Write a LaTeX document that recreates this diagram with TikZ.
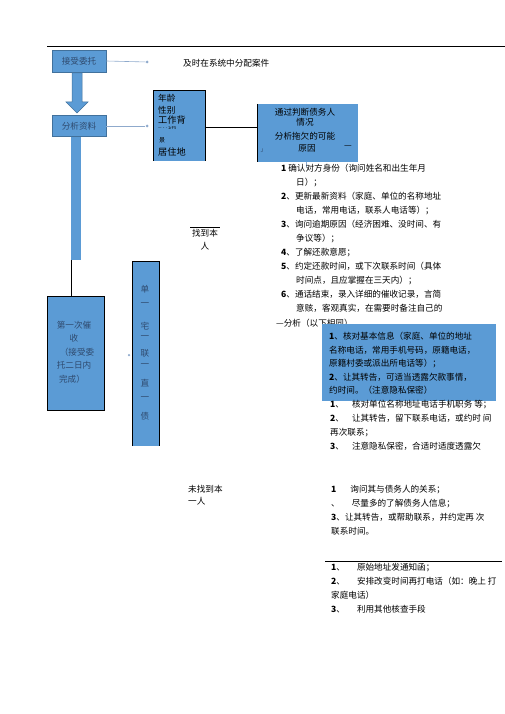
\documentclass[tikz,border=0pt]{standalone}
\usepackage{fontspec}
\setmainfont{Noto Sans CJK SC}
\definecolor{boxblue}{HTML}{5B9BD5}
\definecolor{boxedge}{HTML}{41719C}
\definecolor{slate}{HTML}{2F4A6E}
\definecolor{conn}{HTML}{8FAACC}
\begin{document}
\begin{tikzpicture}[x=1pt,y=-1pt,
  txt/.style={font=\fontsize{8.6}{14}\selectfont, inner sep=0pt, align=left},
  stepbox/.style={fill=boxblue, draw=boxedge, line width=0.6pt, font=\fontsize{8.6}{11}\selectfont, text=slate, inner sep=0pt},
  dotend/.style={circle, fill=conn, inner sep=0pt, minimum size=3pt},
  thinconn/.style={draw=conn, line width=0.6pt}]
\useasboundingbox (0,0) rectangle (505,714);
% top rule
\coordinate (tl) at (47,46);
\coordinate (tr) at (505,46);
\draw[line width=0.8pt] (tl) -- (tr);

% left column
\node[stepbox, minimum width=54pt, minimum height=22pt] (accept) at (79,61) {接受委托};
\node[stepbox, minimum width=54pt, minimum height=21pt] (analyse) at (79,126) {分析资料};
\node[dotend] (d1) at (147,62) {};
\node[dotend] (d2) at (147,126) {};
\draw[thinconn] (accept.east) -- (d1);
\draw[thinconn] (analyse.east) -- (d2);
\node[txt, anchor=west] (assign) at (183,63) {及时在系统中分配案件};

% block arrow
\fill[boxblue, draw=boxedge, line width=0.5pt] (72,73) -- (82,73) -- (82,102) -- (88,102) -- (77,113) -- (66,102) -- (72,102) -- cycle;

% bar down from analyse
\fill[boxblue] (71,137) rectangle (81,260);
\coordinate (barend) at (71.5,260);

% first collection box
\node[fill=boxblue, draw=black, line width=0.8pt, minimum width=57pt, minimum height=114pt, inner sep=0pt] (first) at (75.5,353) {};
\node[txt, text=slate, align=center, font=\fontsize{8.6}{13.5}\selectfont] (firsttxt) at (74,352) {第一次催\\收\\\hspace*{6pt}（接受委\\托二日内\\\hspace*{-4pt}完成）};
\draw[line width=0.8pt] (barend) -- (first.north -| barend);

% vertical bar 单一宅一联一直一债
\fill[boxblue] (132,261) rectangle (159,446);
\draw[line width=0.8pt] (132,446) -- (132,261) -- (159,261) -- (159,446);
\node[circle, fill=conn, inner sep=0pt, minimum size=2.5pt] (d3) at (129,355) {};
\foreach \ch/\yy [count=\i] in {单/289,一/305,宅/326,一/338,联/353,一/366,直/383,一/399,债/416}
  \node[font=\fontsize{8.6}{10}\selectfont, text=slate, inner sep=0pt] (v\i) at (145,\yy) {\ch};

% info box 年龄...
\fill[boxblue] (153,90) rectangle (205,161);
\draw[line width=0.8pt] (153,161) -- (153,90) -- (205,90) -- (205,161);
\node[txt, anchor=west, font=\fontsize{8.6}{12}\selectfont] (age) at (158,98) {年龄};
\node[txt, anchor=west, font=\fontsize{8.6}{12}\selectfont] (sex) at (158,110) {性别};
\node[txt, anchor=west, font=\fontsize{9.2}{12}\selectfont] (work) at (158,120) {工作背};
\node[txt, anchor=west, font=\fontsize{4}{5}\selectfont] (garb) at (158,128) {—·- 1rF5};
\node[txt, anchor=west, font=\fontsize{6}{7}\selectfont] (jing) at (159,140) {景};
\node[txt, anchor=west, font=\fontsize{9.2}{12}\selectfont] (home) at (158,152) {居住地};
\coordinate (agebox) at (205,127);

% judge box
\fill[boxblue] (257,104) rectangle (358,162);
\draw[line width=0.8pt] (257,104) -- (257,162);
\coordinate (judge) at (257,127);
\draw[line width=0.8pt] (agebox) -- (judge);
\node[txt, align=center, font=\fontsize{8.6}{10}\selectfont] (j1) at (305,112) {通过判断债务人};
\node[txt, font=\fontsize{8.6}{10}\selectfont] (j2) at (305,122) {情况};
\node[txt, font=\fontsize{8.6}{10}\selectfont] (j3) at (305,136) {分析拖欠的可能};
\node[txt, font=\fontsize{8.6}{10}\selectfont] (j4) at (307,148) {原因};
\node[txt, font=\fontsize{5}{6}\selectfont, text=slate] (j5) at (262,151) {J};
\node[txt, font=\fontsize{8.6}{10}\selectfont] (j6) at (348,147) {—};
\coordinate (jt) at (306,162);
\coordinate (jb) at (306,167);
\draw[conn, line width=0.5pt] (jt) -- (jb);

% main list
\node[txt, anchor=north west] (list1) at (281,164) {%
\textbf{1} 确认对方身份（询问姓名和出生年月\\
\hspace*{15pt}日）；\\
\textbf{2}、更新最新资料（家庭、单位的名称地址\\
\hspace*{15pt}电话，常用电话，联系人电话等）；\\
\textbf{3}、询问逾期原因（经济困难、没时间、有\\
\hspace*{15pt}争议等）；\\
\textbf{4}、了解还款意愿；\\
\textbf{5}、约定还款时间，或下次联系时间（具体\\
\hspace*{15pt}时间点，且应掌握在三天内）；\\
\textbf{6}、通话结束，录入详细的催收记录，言简\\
\hspace*{15pt}意赅，客观真实，在需要时备注自己的};
\node[txt, anchor=west] (anal) at (276,323) {—分析（以下相同）};

% found label
\node[txt, align=center, font=\fontsize{8.6}{13}\selectfont] (found) at (205,240) {找到本\\人};
\coordinate (fl) at (190,227);
\coordinate (fr) at (220,227);
\draw[line width=0.5pt] (fl) -- (fr);

% blue box 2
\node[fill=boxblue, minimum width=174pt, minimum height=77pt, inner sep=0pt] (home2) at (409,362.5) {};
\node[txt, anchor=north west, font=\fontsize{8.6}{13.5}\selectfont] (h2txt) at (329,332) {%
\textbf{1}、核对基本信息（家庭、单位的地址\\
名称电话，常用手机号码，原籍电话，\\
原籍村委或派出所电话等）；\\
\textbf{2}、让其转告，可适当透露欠款事情，\\
约时间。（注意隐私保密）};

% company list
\node[txt, anchor=north west] (comp) at (330,400) {%
\textbf{1}、\hspace{8pt}核对单位名称地址电话手机职务 等；\\
\textbf{2}、\hspace{8pt}让其转告，留下联系电话，或约时 间\\
再次联系；\\
\textbf{3}、\hspace{8pt}注意隐私保密，合适时适度透露欠};

% not found
\node[txt, anchor=north west, font=\fontsize{8.6}{12.5}\selectfont] (notfound) at (188,485) {未找到本\\一人};
\node[txt, anchor=north west] (rel) at (331,485) {%
\textbf{1}\hspace{14pt}询问其与债务人的关系；\\
、\hspace{12pt}尽量多的了解债务人信息；\\
\textbf{3}、让其转告，或帮助联系，并约定再 次\\
联系时间。};

\coordinate (hl) at (325,561);
\coordinate (hr) at (502,561);
\draw[line width=0.8pt] (hl) -- (hr);
\node[txt, anchor=north west] (last) at (331,563) {%
\textbf{1}、\hspace{12pt}原始地址发通知函；\\
\textbf{2}、\hspace{12pt}安排改变时间再打电话（如：晚上 打\\
家庭电话）\\
\textbf{3}、\hspace{12pt}利用其他核查手段};
\end{tikzpicture}
\end{document}
